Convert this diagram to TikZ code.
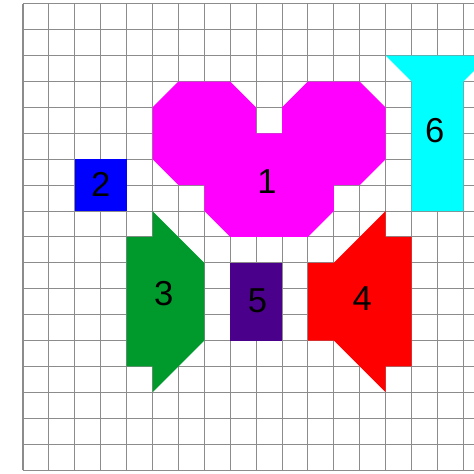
\documentclass[tikz,border=0pt]{standalone}
\usepackage{fontspec}
\setmainfont{Liberation Sans}
\definecolor{tgray}{RGB}{140,140,140}
\definecolor{tmagenta}{RGB}{255,0,255}
\definecolor{tblue}{RGB}{0,0,255}
\definecolor{tgreen}{RGB}{0,153,43}
\definecolor{tred}{RGB}{255,0,0}
\definecolor{tpurple}{RGB}{75,0,140}
\definecolor{tcyan}{RGB}{0,255,255}
\usetikzlibrary{positioning}
\tikzset{
  gridline/.style={draw=tgray, line width=1.1pt},
  piece/.style={line width=0pt},
  numlabel/.style={inner sep=0pt, font=\fontsize{38}{40}\selectfont, text=black}
}

\begin{document}
\begin{tikzpicture}
  \useasboundingbox (-0.888,-0.116) rectangle (17.413,18.147);
  \clip (-0.888,-0.116) rectangle (17.413,18.147);
  \draw[gridline] (0,0) grid (18,18);

  % pieces
  \fill[piece, tmagenta] (5,14) -- (6,15) -- (8,15) -- (9,14) -- (9,13) -- (10,13) -- (10,14) -- (11,15) -- (13,15) -- (14,14) -- (14,12) -- (13,11) -- (12,11) -- (12,10) -- (11,9) -- (8,9) -- (7,10) -- (7,11) -- (6,11) -- (5,12) -- cycle;
  \fill[piece, tblue] (2,10) rectangle (4,12);
  \fill[piece, tgreen] (4,9) -- (5,9) -- (5,10) -- (7,8) -- (7,5) -- (5,3) -- (5,4) -- (4,4) -- cycle;
  \fill[piece, tred] (11,8) -- (12,8) -- (14,10) -- (14,9) -- (15,9) -- (15,4) -- (14,4) -- (14,3) -- (12,5) -- (11,5) -- cycle;
  \fill[piece, tpurple] (8,5) rectangle (10,8);
  \fill[piece, tcyan] (14,16) -- (15,15) -- (15,10) -- (17,10) -- (17,15) -- (18,16) -- cycle;

  % numbers
  \node[numlabel] (n1) at (9.42,11.15) {1};
  \node[numlabel] (n2) at (3,11.02) {2};
  \node[numlabel] (n3) at (5.43,6.8) {3};
  \node[numlabel] (n4) at (13.1,6.6) {4};
  \node[numlabel] (n5) at (9.05,6.52) {5};
  \node[numlabel] (n6) at (15.9,13.1) {6};
\end{tikzpicture}
\end{document}
